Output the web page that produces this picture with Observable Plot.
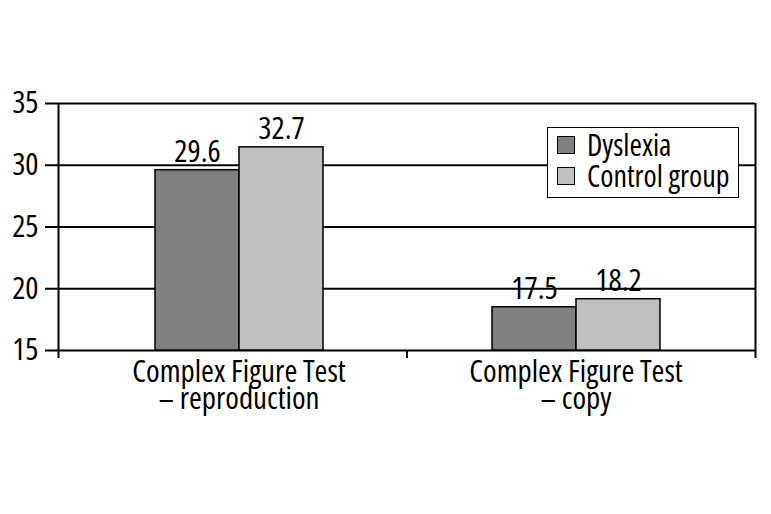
<!DOCTYPE html>
<html>
<head>
<meta charset="utf-8">
<script src="https://cdn.jsdelivr.net/npm/d3@7"></script>
<script src="https://cdn.jsdelivr.net/npm/@observablehq/plot@0.6"></script>
<style>
  body { margin: 0; background: #fff; }
  #wrap { position: relative; width: 771px; height: 514px; font-family: "Open Sans", sans-serif; font-stretch: 75%; }
  #wrap svg { position: absolute; left: 0; top: 0; }
  #legend { position: absolute; left: 547px; top: 127px; width: 190px; height: 69px; border: 1.5px solid #000; background: #fff; box-sizing: content-box; }
  .item { position: absolute; left: 9px; height: 31px; line-height: 31px; display: flex; align-items: center; font-size: 30px; color: #000; white-space: nowrap; }
  .sw { width: 16px; height: 16px; border: 1.5px solid #000; margin-right: 12px; flex: none; }
</style>
</head>
<body>
<div id="wrap"></div>
<script>
const categories = ["Complex Figure Test\n– reproduction", "Complex Figure Test\n– copy"];
const groups = ["Dyslexia", "Control group"];
const groupColors = ["#808080", "#c0c0c0"];
// bar heights as drawn in the picture
const dyslexiaBars = [29.6, 18.5];
const controlBars = [31.45, 19.15];
// printed value labels
const dyslexiaLabels = ["29.6", "17.5"];
const controlLabels = ["32.7", "18.2"];
const yTicks = [15, 20, 25, 30, 35];

const rows = [];
categories.forEach((c, i) => {
  rows.push({category: c, group: groups[0], value: dyslexiaBars[i], label: dyslexiaLabels[i]});
  rows.push({category: c, group: groups[1], value: controlBars[i], label: controlLabels[i]});
});

const W = 771, H = 514;
const margins = {marginLeft: 58, marginRight: 16, marginTop: 103, marginBottom: 164};
const yDomain = [yTicks[0], yTicks[yTicks.length - 1]];
const svgStyle = `background: transparent; overflow: visible; font-family: "Open Sans", sans-serif; font-stretch: 75%; color: #000;`;

const bg = Plot.plot({
  width: W, height: H, ...margins,
  style: svgStyle,
  x: {domain: [0, categories.length]},
  y: {domain: yDomain},
  marks: [
    Plot.ruleY(yTicks, {stroke: "#000", strokeWidth: 2, insetLeft: -13}),
    Plot.ruleX([0, categories.length], {stroke: "#000", strokeWidth: 2}),
    Plot.axisX({ticks: d3.range(categories.length + 1), tickSize: 8, tickFormat: () => "", strokeWidth: 2, label: null}),
    Plot.axisY({ticks: yTicks, tickSize: 0, tickPadding: 20, fontSize: 31, label: null})
  ]
});

const fg = Plot.plot({
  width: W, height: H, ...margins,
  style: svgStyle,
  fx: {domain: categories, paddingInner: 0, paddingOuter: 0.034, label: null},
  x: {domain: groups, paddingInner: 0, paddingOuter: 1, axis: null},
  y: {domain: yDomain, axis: null},
  color: {domain: groups, range: groupColors},
  marks: [
    Plot.barY(rows, {fx: "category", x: "group", y1: yDomain[0], y2: "value", fill: "group", stroke: "#000", strokeWidth: 1.5}),
    Plot.text(rows, {fx: "category", x: "group", y: "value", text: "label", lineAnchor: "bottom", dy: -8, fontSize: 31}),
    Plot.axisFx({anchor: "bottom", tickSize: 0, tickPadding: 13, fontSize: 31, lineHeight: 0.86, label: null})
  ]
});

const wrap = document.getElementById("wrap");
wrap.appendChild(bg);
wrap.appendChild(fg);

const legend = document.createElement("div");
legend.id = "legend";
groups.forEach((g, i) => {
  const it = document.createElement("div");
  it.className = "item";
  it.style.top = (i * 31 + 1) + "px";
  const sw = document.createElement("span");
  sw.className = "sw";
  sw.style.background = groupColors[i];
  const tx = document.createElement("span");
  tx.textContent = g;
  it.appendChild(sw);
  it.appendChild(tx);
  legend.appendChild(it);
});
wrap.appendChild(legend);
</script>
</body>
</html>
